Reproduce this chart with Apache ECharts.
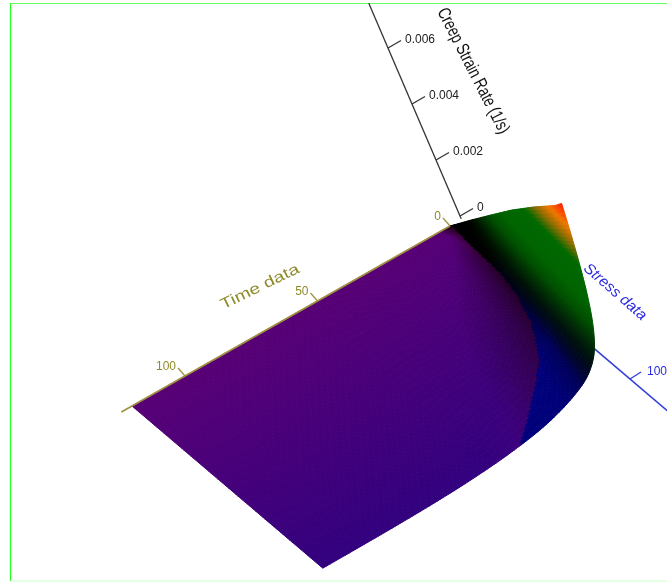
<!DOCTYPE html>
<html><head><meta charset="utf-8">
<style>html,body{margin:0;padding:0;background:#fff}#c{width:667px;height:582px}</style>
<script src="https://cdn.jsdelivr.net/npm/echarts@6/dist/echarts.min.js"></script>
</head><body><div id="c"></div>
<script>
const timeData = [0,1,2,3,4,6,8,10,13,16,20,25,30,36,45,55,70,85,100,120];
const stressData = [0,20,40,60,80,100,106];
const creepRate = [
 [0,.0013,.00258,.00385,.00505,.0062,.0066],
 [0,.00108,.00215,.00323,.0043,.00538,.0057],
 [0,.00093,.00185,.00277,.0037,.00462,.0049],
 [0,.00079,.00158,.00238,.00317,.00396,.0042],
 [0,.00068,.00136,.00204,.00272,.0034,.0036],
 [0,.00051,.00102,.00153,.00204,.00255,.0027],
 [0,.0004,.00079,.00119,.00159,.00198,.0021],
 [0,.00032,.00064,.00096,.00128,.0016,.0017],
 [0,.00026,.00051,.00076,.00102,.00127,.00135],
 [0,.00021,.00042,.00063,.00085,.00106,.00112],
 [0,.00017,.00035,.00052,.00069,.00087,.00092],
 [0,.00014,.00028,.00041,.00055,.00069,.00073],
 [0,.00011,.00022,.00033,.00044,.00055,.00058],
 [0,.000083,.00017,.00025,.00033,.00041,.00044],
 [0,.000057,.00011,.00017,.00023,.00028,.0003],
 [0,.000036,.00007,.00011,.00014,.00018,.00019],
 [0,.000017,.000034,.00005,.000068,.000085,.00009],
 [0,.000008,.000015,.000023,.00003,.000038,.00004],
 [0,.000003,.000006,.000008,.000011,.000014,.000015],
 [0,0,0,0,0,0,0]
];
const timeTicks = [0,50,100];
const stressTicks = [100];
const rateTicks = [0,0.002,0.004,0.006];
const rateLabels = ['0','0.002','0.004','0.006'];
const timeAxisEnd = 124, stressAxisRange = [80,122], rateAxisRange = [-0.0001,0.0076];

// oblique view of the three data axes
const view = {ox:450, oy:226, tx:-2.65, ty:1.5, sx:1.8, sy:1.53, zx:-12000, zy:-28000, zox:460, zoy:216};
const project = (t,s,z)=>[view.ox+t*view.tx+s*view.sx+z*view.zx, view.oy+t*view.ty+s*view.sy+z*view.zy];
const projectRate = z=>[view.zox+z*view.zx, view.zoy+z*view.zy];

// colour ramps
const rateRamp = [[0,[0,0,125]],[.0007,[0,0,122]],[.0010,[0,0,90]],[.0012,[0,5,45]],[.0015,[0,16,14]],[.0020,[0,48,5]],[.0025,[0,80,0]],[.0032,[0,100,0]],[.0045,[0,105,0]],[.0052,[150,110,0]],[.0058,[240,120,0]],[.0066,[255,30,0]]];
const edgeT = [0,2.5,4.5,6.5,8.5,12,19,31,44,60];
const edgeS = [0,12,25,45,57,69,83,94,106,125];
const lerpTab=(xs,ys,x)=>{for(let i=1;i<xs.length;i++){if(x<=xs[i]){const f=(x-xs[i-1])/(xs[i]-xs[i-1]);return ys[i-1]+(ys[i]-ys[i-1])*f;}}return ys[ys.length-1];};
const clamp01=v=>Math.min(1,Math.max(0,v));
function surfaceColor(t,s,z){
  const edge=lerpTab(edgeT,edgeS,t);
  if(s>=edge){
    let col=[255,30,0];
    for(let i=1;i<rateRamp.length;i++){
      if(z<=rateRamp[i][0]){
        const a=rateRamp[i-1],b=rateRamp[i],f=(z-a[0])/(b[0]-a[0]);
        col=a[1].map((v,k)=>v+(b[1][k]-v)*f);
        break;
      }
    }
    const blueGain=clamp01((s-35)/45);
    return `rgb(${Math.round(col[0])},${Math.round(col[1])},${Math.round(col[2]*blueGain)})`;
  }
  const mix=s/106;
  let r=88-38*mix, b=118+8*mix;
  r+=clamp01((s-edge+18)/18)*10;
  const dark=(1-0.8*clamp01((z-.0003)/.0011))*Math.min(1,0.12+t/5);
  return `rgb(${Math.round(r*dark)},0,${Math.round(b*Math.pow(dark,1.4))})`;
}

// smooth drawing of each stress column between its read rows (monotone Hermite)
const columnSlopes = stressData.map((_,j)=>{
  const n=timeData.length, d=[], m=new Array(n).fill(0);
  for(let i=0;i<n-1;i++)d.push((creepRate[i+1][j]-creepRate[i][j])/(timeData[i+1]-timeData[i]));
  m[0]=d[0]; m[n-1]=d[n-2];
  for(let i=1;i<n-1;i++)m[i]=d[i-1]*d[i]<=0?0:2*d[i-1]*d[i]/(d[i-1]+d[i]);
  return m;
});
function rateAt(i,j,u){
  const h=timeData[i+1]-timeData[i],a=creepRate[i][j],b=creepRate[i+1][j],ma=columnSlopes[j][i],mb=columnSlopes[j][i+1];
  const u2=u*u,u3=u2*u;
  return (2*u3-3*u2+1)*a+(u3-2*u2+u)*h*ma+(-2*u3+3*u2)*b+(u3-u2)*h*mb;
}

const cells=[];
for(let i=0;i<timeData.length-1;i++)for(let j=0;j<stressData.length-1;j++)cells.push([i,j]);

function renderCell(params,api){
  const i=api.value(0),j=api.value(1);
  const nt=Math.min(14,Math.max(6,Math.ceil((timeData[i+1]-timeData[i])*1.4))), ns=j===5?5:16;
  const at=(u,v)=>{
    const z=(1-v)*rateAt(i,j,u)+v*rateAt(i,j+1,u);
    const t=timeData[i]+u*(timeData[i+1]-timeData[i]), s=stressData[j]+v*(stressData[j+1]-stressData[j]);
    return {t,s,z,p:api.coord(project(t,s,z))};
  };
  const children=[];
  for(let a=0;a<nt;a++)for(let b=0;b<ns;b++){
    const p=[at(a/nt,b/ns),at((a+1)/nt,b/ns),at((a+1)/nt,(b+1)/ns),at(a/nt,(b+1)/ns)];
    const c=at((a+.5)/nt,(b+.5)/ns);
    const col=surfaceColor(c.t,c.s,c.z);
    children.push({type:'polygon',shape:{points:p.map(q=>q.p)},style:{fill:col,stroke:col,lineWidth:1}});
  }
  return {type:'group',children};
}

const lineSeries=(data,color,width,z)=>({
  type:'custom',coordinateSystem:'cartesian2d',silent:true,clip:false,z,animation:false,
  data:data.map((d,i)=>[i]),
  renderItem:(params,api)=>{
    const d=data[api.value(0)],a=api.coord(d[0]),b=api.coord(d[1]);
    return {type:'line',shape:{x1:a[0],y1:a[1],x2:b[0],y2:b[1]},style:{stroke:color,lineWidth:width}};
  }
});
const textSeries=(items,z)=>({
  type:'custom',coordinateSystem:'cartesian2d',silent:true,clip:false,z,animation:false,
  data:items.map((d,i)=>[i]),
  renderItem:(params,api)=>{
    const d=items[api.value(0)],a=api.coord(d.at);
    return {type:'text',x:a[0],y:a[1],rotation:d.rot||0,scaleX:d.sx||1,scaleY:1,
      style:{text:d.text,fill:d.color,font:(d.italic?'italic ':'')+d.size+'px "Liberation Sans",Arial,sans-serif',align:d.align||'left',verticalAlign:'middle'}};
  }
});
const off=(p,dx,dy)=>[p[0]+dx,p[1]+dy];

const RATE='#333333', TIME='#a09440', STRESS='#3340d8';
const RATE_T='#222222', TIME_T='#8f8a2a', STRESS_T='#2a2ae0';

const series=[
 lineSeries([[project(0,stressAxisRange[0],0),project(0,stressAxisRange[1],0)]],STRESS,1.6,1),
 lineSeries(stressTicks.map(s=>{const p=project(0,s,0);return [p,off(p,11,-7)];}),STRESS,1.4,1),
 lineSeries([[projectRate(rateAxisRange[0]),projectRate(rateAxisRange[1])]],RATE,1.3,1),
 lineSeries(rateTicks.map(z=>{const p=projectRate(z);return [p,off(p,13,-7.5)];}),RATE,1.3,1),
 {type:'custom',coordinateSystem:'cartesian2d',silent:true,clip:false,z:2,animation:false,progressive:0,
  data:cells,renderItem:renderCell},
 lineSeries([[project(0,0,0),project(timeAxisEnd,0,0)]],TIME,1.8,3),
 lineSeries(timeTicks.map(t=>{const p=project(t,0,0);return [p,off(p,-7,-8)];}),TIME,1.4,3),
 textSeries(timeTicks.map(t=>({text:String(t),at:off(project(t,0,0),-9,-9),color:TIME_T,size:12,align:'right'})),4),
 textSeries(rateTicks.map((z,i)=>({text:rateLabels[i],at:off(projectRate(z),17,-8),color:RATE_T,size:12})),4),
 textSeries(stressTicks.map(s=>({text:String(s),at:off(project(0,s,0),17,-7),color:STRESS_T,size:12})),4),
 textSeries([
  {text:'Time data',at:[260,287],rot:26*Math.PI/180,sx:1.3,size:15,color:TIME_T,align:'center'},
  {text:'Creep Strain Rate (1/s)',at:[473,71],rot:-63*Math.PI/180,sx:.75,size:18,color:'#111111',align:'center'},
  {text:'Stress data',at:[615,292],rot:-41*Math.PI/180,sx:1.03,size:15,color:STRESS_T,align:'center',italic:true}
 ],4)
];

const chart=echarts.init(document.getElementById('c'),null,{renderer:'canvas'});
chart.setOption({
 animation:false,
 backgroundColor:'#ffffff',
 grid:{left:0,right:0,top:0,bottom:0},
 xAxis:{type:'value',min:0,max:667,show:false},
 yAxis:{type:'value',min:0,max:582,inverse:true,show:false},
 graphic:[
  {type:'line',shape:{x1:10.5,y1:3.5,x2:667,y2:3.5},style:{stroke:'#66ff66',lineWidth:1.2},silent:true},
  {type:'line',shape:{x1:10.5,y1:3,x2:10.5,y2:581},style:{stroke:'#22ff22',lineWidth:1.2},silent:true},
  {type:'line',shape:{x1:10.5,y1:581,x2:667,y2:581},style:{stroke:'#c8ffc8',lineWidth:1},silent:true}
 ],
 series
});
</script></body></html>
